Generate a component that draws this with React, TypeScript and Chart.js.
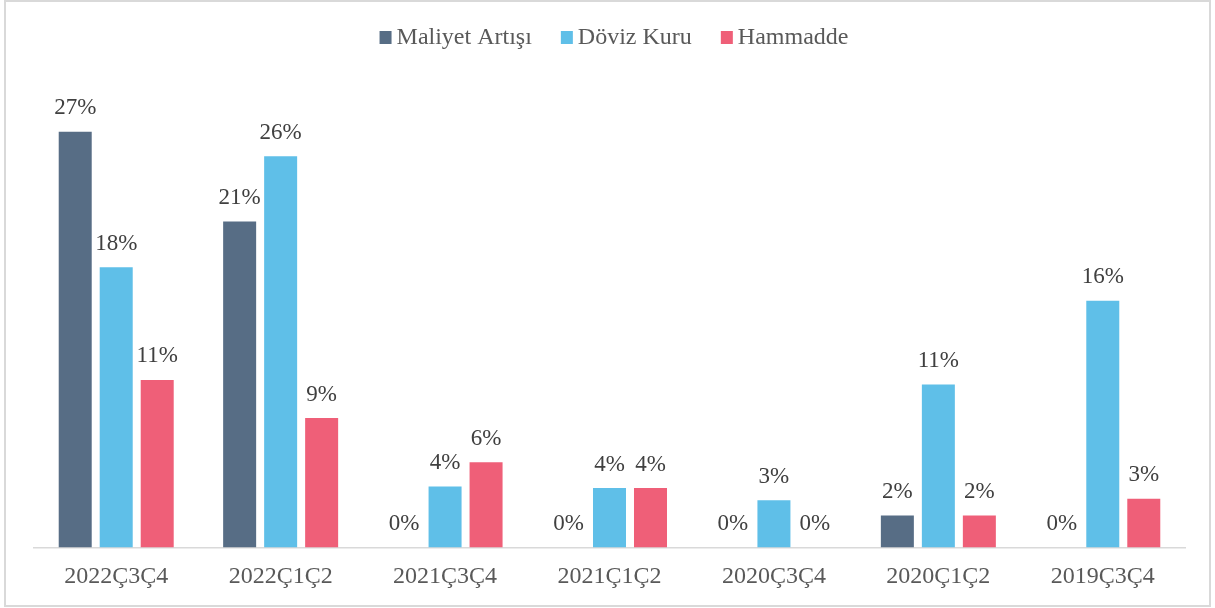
import React, { useEffect, useRef } from "react";
import { Chart, registerables } from "chart.js";

Chart.register(...registerables);

const categories = ["2022Ç3Ç4", "2022Ç1Ç2", "2021Ç3Ç4", "2021Ç1Ç2", "2020Ç3Ç4", "2020Ç1Ç2", "2019Ç3Ç4"];
const maliyet = [0.273, 0.214, 0, 0, 0, 0.021, 0];
const doviz = [0.184, 0.257, 0.04, 0.039, 0.031, 0.107, 0.162];
const hammadde = [0.11, 0.085, 0.056, 0.039, 0, 0.021, 0.032];
const seriesNames = ["Maliyet Artışı", "Döviz Kuru", "Hammadde"];
const seriesColors = ["#576D85", "#5FBFE8", "#EF5F78"];

const FONT = "Liberation Serif";

const dataLabelPlugin = {
  id: "dataLabels",
  afterDatasetsDraw(chart: any) {
    const ctx = chart.ctx;
    ctx.save();
    ctx.font = `23px "${FONT}"`;
    ctx.fillStyle = "#404040";
    ctx.textAlign = "center";
    ctx.textBaseline = "middle";
    chart.data.datasets.forEach((ds: any, i: number) => {
      const meta = chart.getDatasetMeta(i);
      meta.data.forEach((el: any, j: number) => {
        const v = ds.data[j];
        ctx.fillText(Math.round(v * 100) + "%", el.x, el.y - 23.5);
      });
    });
    ctx.restore();
  },
};

const legendPlugin = {
  id: "customLegend",
  afterDraw(chart: any) {
    const ctx = chart.ctx;
    ctx.save();
    ctx.font = `24px "${FONT}"`;
    ctx.textBaseline = "middle";
    ctx.textAlign = "left";
    const box = 12;
    const gapText = 5;
    const gapItem = 29;
    const items = chart.data.datasets.map((ds: any) => ({
      label: ds.label,
      color: ds.backgroundColor,
      w: ctx.measureText(ds.label).width,
    }));
    const total =
      items.reduce((s: number, it: any) => s + box + gapText + it.w, 0) + gapItem * (items.length - 1);
    let x = 614 - total / 2;
    const cy = 37.5;
    items.forEach((it: any) => {
      ctx.fillStyle = it.color;
      ctx.fillRect(x, cy - 6.5, box, 13);
      ctx.fillStyle = "#595959";
      ctx.fillText(it.label, x + box + gapText, cy);
      x += box + gapText + it.w + gapItem;
    });
    ctx.restore();
  },
};

const borderPlugin = {
  id: "outerBorder",
  afterDraw(chart: any) {
    const ctx = chart.ctx;
    ctx.save();
    ctx.strokeStyle = "#D9D9D9";
    ctx.lineWidth = 2;
    ctx.strokeRect(5, 1, chart.width - 10, chart.height - 3);
    ctx.restore();
  },
};

export default function App() {
  const ref = useRef<HTMLCanvasElement>(null);
  useEffect(() => {
    let chart: any = null;
    let cancelled = false;
    const make = () => {
      if (cancelled || !ref.current) return;
      chart = new Chart(ref.current, {
        type: "bar",
        data: {
          labels: categories,
          datasets: [maliyet, doviz, hammadde].map((d, i) => ({
            label: seriesNames[i],
            data: d,
            backgroundColor: seriesColors[i],
            borderWidth: 0,
            categoryPercentage: 0.748,
            barPercentage: 0.805,
          })),
        },
        options: {
          animation: false,
          responsive: false,
          maintainAspectRatio: false,
          layout: { padding: { left: 34, right: 30, top: 90.7, bottom: 1.8 } },
          plugins: {
            legend: { display: false },
            tooltip: { enabled: false },
          },
          scales: {
            x: {
              grid: { display: false, drawTicks: false },
              border: { display: true, color: "#D9D9D9", width: 1.5 },
              ticks: { color: "#595959", padding: 15, font: { family: FONT, size: 24 } },
            },
            y: {
              display: false,
              min: 0,
              max: 0.3,
            },
          },
        },
        plugins: [dataLabelPlugin, legendPlugin, borderPlugin],
      });
    };
    const fonts: any = (document as any).fonts;
    if (fonts && fonts.load) {
      Promise.all([fonts.load(`24px "${FONT}"`), fonts.load(`23px "${FONT}"`)]).then(make, make);
    } else {
      make();
    }
    return () => {
      cancelled = true;
      if (chart) chart.destroy();
    };
  }, []);
  return (
    <div style={{ position: "fixed", left: 0, top: 0, width: 1215, height: 608, background: "#fff" }}>
      <canvas ref={ref} width={1215} height={608} style={{ width: 1215, height: 608 }} />
    </div>
  );
}
